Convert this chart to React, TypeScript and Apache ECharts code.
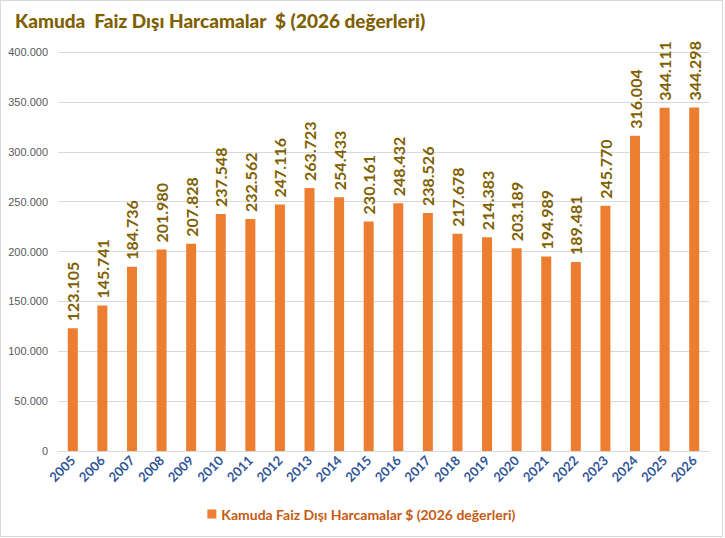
import React, { useEffect, useRef } from "react";
import * as echarts from "echarts";

const years = [
  "2005", "2006", "2007", "2008", "2009", "2010", "2011", "2012", "2013", "2014", "2015",
  "2016", "2017", "2018", "2019", "2020", "2021", "2022", "2023", "2024", "2025", "2026",
];

const spending = [
  123105, 145741, 184736, 201980, 207828, 237548, 232562, 247116, 263723, 254433, 230161,
  248432, 238526, 217678, 214383, 203189, 194989, 189481, 245770, 316004, 344111, 344298,
];

const seriesName = "Kamuda Faiz Dışı Harcamalar $ (2026 değerleri)";
const titleText = "Kamuda  Faiz Dışı Harcamalar  $ (2026 değerleri)";

const fmt = (v: number) =>
  v === 0 ? "0" : v.toString().replace(/\B(?=(\d{3})+(?!\d))/g, ".");

export default function App() {
  const ref = useRef<HTMLDivElement>(null);

  useEffect(() => {
    if (!ref.current) return;
    const chart = echarts.init(ref.current, null, { renderer: "svg" });
    chart.setOption({
      animation: false,
      backgroundColor: "#ffffff",
      title: {
        text: titleText,
        left: 9,
        top: 5,
        textStyle: {
          fontFamily: "Lato",
          fontWeight: 900,
          fontSize: 19,
          color: "#7f6000",
        },
      },
      legend: {
        bottom: 10,
        left: "center",
        itemWidth: 9,
        itemHeight: 9,
        icon: "rect",
        itemGap: 4,
        textStyle: {
          fontFamily: "Lato",
          fontSize: 14,
          fontWeight: "bold",
          color: "#c55a11",
        },
        data: [seriesName],
      },
      grid: { left: 57, right: 13, top: 51, bottom: 85 },
      xAxis: {
        type: "category",
        data: years,
        axisLine: { lineStyle: { color: "#d9d9d9" } },
        axisTick: { show: false },
        axisLabel: {
          rotate: 45,
          interval: 0,
          margin: 7,
          fontFamily: "Lato",
          fontWeight: "bold",
          fontSize: 13,
          color: "#2f5597",
        },
      },
      yAxis: {
        type: "value",
        min: 0,
        max: 400000,
        interval: 50000,
        axisLine: { show: false },
        axisTick: { show: false },
        splitLine: { lineStyle: { color: "#d9d9d9" } },
        axisLabel: {
          formatter: (v: number) => fmt(v),
          fontFamily: "Liberation Sans",
          fontSize: 11,
          color: "#595959",
          margin: 10,
        },
      },
      series: [
        {
          name: seriesName,
          type: "bar",
          data: spending,
          barWidth: 10,
          itemStyle: { color: "#ed7d31" },
          label: {
            show: true,
            position: "top",
            rotate: 90,
            align: "left",
            verticalAlign: "middle",
            distance: 7,
            formatter: (p: any) => fmt(p.value),
            fontFamily: "Lato",
            fontWeight: "bold",
            fontSize: 16,
            color: "#7f6000",
          },
        },
      ],
    });
    return () => chart.dispose();
  }, []);

  return (
    <div
      style={{
        position: "absolute",
        left: 0,
        top: 0,
        width: 723,
        height: 537,
        border: "1px solid #d9d9d9",
        boxSizing: "border-box",
        background: "#ffffff",
      }}
    >
      <div ref={ref} style={{ width: 721, height: 535 }} />
    </div>
  );
}
